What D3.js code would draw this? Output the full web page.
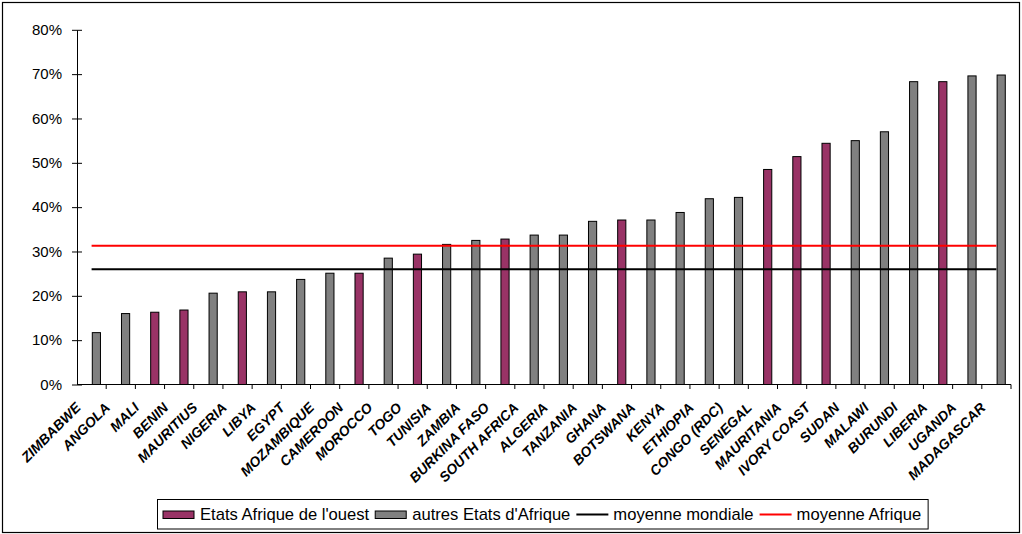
<!DOCTYPE html>
<html>
<head>
<meta charset="utf-8">
<script src="https://cdn.jsdelivr.net/npm/d3@7"></script>
<style>
  body { margin: 0; background: #fff; }
  svg { display: block; font-family: "Liberation Sans", Arial, sans-serif; }
</style>
</head>
<body>
<div id="chart"></div>
<script>
const countries = ["ZIMBABWE", "ANGOLA", "MALI", "BENIN", "MAURITIUS", "NIGERIA", "LIBYA", "EGYPT",
  "MOZAMBIQUE", "CAMEROON", "MOROCCO", "TOGO", "TUNISIA", "ZAMBIA", "BURKINA FASO", "SOUTH AFRICA",
  "ALGERIA", "TANZANIA", "GHANA", "BOTSWANA", "KENYA", "ETHIOPIA", "CONGO (RDC)", "SENEGAL",
  "MAURITANIA", "IVORY COAST", "SUDAN", "MALAWI", "BURUNDI", "LIBERIA", "UGANDA", "MADAGASCAR"]
const values = [0.117, 0.160, 0.163, 0.168, 0.206, 0.209, 0.209, 0.237,
  0.251, 0.251, 0.285, 0.294, 0.316, 0.325, 0.328, 0.337,
  0.337, 0.368, 0.371, 0.371, 0.388, 0.419, 0.422, 0.485,
  0.514, 0.544, 0.550, 0.570, 0.683, 0.683, 0.696, 0.698]
const westAfrica = ["MALI", "BENIN", "NIGERIA", "CAMEROON", "TOGO", "BURKINA FASO", "GHANA",
  "SENEGAL", "MAURITANIA", "IVORY COAST", "LIBERIA"]
const moyenneMondiale = 0.26
const moyenneAfrique = 0.313
const yTicks = [0, 0.1, 0.2, 0.3, 0.4, 0.5, 0.6, 0.7, 0.8]
const legendItems = [
  {label: "Etats Afrique de l'ouest", type: "rect", color: "#993366"},
  {label: "autres Etats d'Afrique", type: "rect", color: "#808080"},
  {label: "moyenne mondiale", type: "line", color: "#000000"},
  {label: "moyenne Afrique", type: "line", color: "#ff0000"}
]

var width = 1022, height = 534
var svg = d3.select("#chart").append("svg")
  .attr("width", width)
  .attr("height", height)

// outer frame
svg.append("rect")
  .attr("x", 2.5).attr("y", 2.5)
  .attr("width", 1017).attr("height", 530)
  .attr("fill", "#fff")
  .attr("stroke", "#000")
  .attr("stroke-width", 1.2)

var x = d3.scaleBand()
  .domain(countries)
  .range([77, 1011])
var y = d3.scaleLinear()
  .domain([0, 0.8])
  .range([384.5, 29.8])

// bars
svg.append("g")
  .selectAll("rect")
  .data(countries)
  .join("rect")
  .attr("x", d => x(d) + x.bandwidth() * 0.507 + 0.5)
  .attr("width", x.bandwidth() * 0.28)
  .attr("y", (d, i) => y(values[i]))
  .attr("height", (d, i) => y(0) - y(values[i]))
  .attr("fill", d => westAfrica.includes(d) ? "#993366" : "#808080")
  .attr("stroke", "#000")
  .attr("stroke-width", 1)

// average lines, from first to last category centre
var first = countries[0], last = countries[countries.length - 1]
svg.append("path")
  .datum([first, last])
  .attr("fill", "none")
  .attr("stroke", "#000")
  .attr("stroke-width", 2)
  .attr("d", d3.line().x(d => x(d) + x.bandwidth() / 2).y(() => y(moyenneMondiale)))
svg.append("path")
  .datum([first, last])
  .attr("fill", "none")
  .attr("stroke", "#ff0000")
  .attr("stroke-width", 2)
  .attr("d", d3.line().x(d => x(d) + x.bandwidth() / 2).y(() => y(moyenneAfrique)))

// y axis, ticks crossing the axis
var yAxis = svg.append("g")
  .attr("transform", "translate(77,0)")
  .call(d3.axisLeft(y).tickValues(yTicks).tickFormat(d3.format(".0%"))
    .tickSize(5).tickPadding(10).tickSizeOuter(0))
yAxis.select(".domain").attr("stroke", "#000")
yAxis.selectAll(".tick line").attr("x1", 5).attr("stroke", "#000")
yAxis.selectAll(".tick text")
  .attr("font-size", 15)
  .attr("font-family", "Liberation Sans, Arial, sans-serif")
  .attr("fill", "#000")

// x axis line and boundary ticks
var xAxis = svg.append("g")
xAxis.append("line")
  .attr("x1", x.range()[0]).attr("x2", x.range()[1])
  .attr("y1", y(0)).attr("y2", y(0))
  .attr("stroke", "#000")
xAxis.selectAll("line.tk")
  .data(countries.slice(1).map(c => x(c)).concat([x.range()[1]]))
  .join("line")
  .attr("class", "tk")
  .attr("x1", d => d).attr("x2", d => d)
  .attr("y1", y(0)).attr("y2", y(0) + 4.5)
  .attr("stroke", "#000")
xAxis.selectAll("text")
  .data(countries)
  .join("text")
  .attr("transform", d => "translate(" + (x(d) + x.bandwidth() / 2 - 10) + "," + (y(0) + 24) + ") rotate(-45)")
  .attr("text-anchor", "end")
  .attr("font-size", 14)
  .attr("font-weight", "bold")
  .attr("font-style", "italic")
  .text(d => d)

// legend
var legend = svg.append("g")
var lx = 163
legendItems.forEach(function(item) {
  if (item.type === "rect") {
    legend.append("rect")
      .attr("x", lx).attr("y", 511)
      .attr("width", 31).attr("height", 7.5)
      .attr("fill", item.color)
      .attr("stroke", "#000")
      .attr("stroke-width", 1)
  } else {
    legend.append("line")
      .attr("x1", lx).attr("x2", lx + 32)
      .attr("y1", 514.5).attr("y2", 514.5)
      .attr("stroke", item.color)
      .attr("stroke-width", 2)
  }
  var t = legend.append("text")
    .attr("x", lx + 37)
    .attr("y", 519.5)
    .attr("font-size", 16.6)
    .text(item.label)
  lx = lx + 37 + t.node().getComputedTextLength() + 6
})
legend.insert("rect", ":first-child")
  .attr("x", 157.5).attr("y", 499.5)
  .attr("width", lx - 157.5 + 1)
  .attr("height", 29.5)
  .attr("fill", "#fff")
  .attr("stroke", "#000")
  .attr("stroke-width", 1)
</script>
</body>
</html>
